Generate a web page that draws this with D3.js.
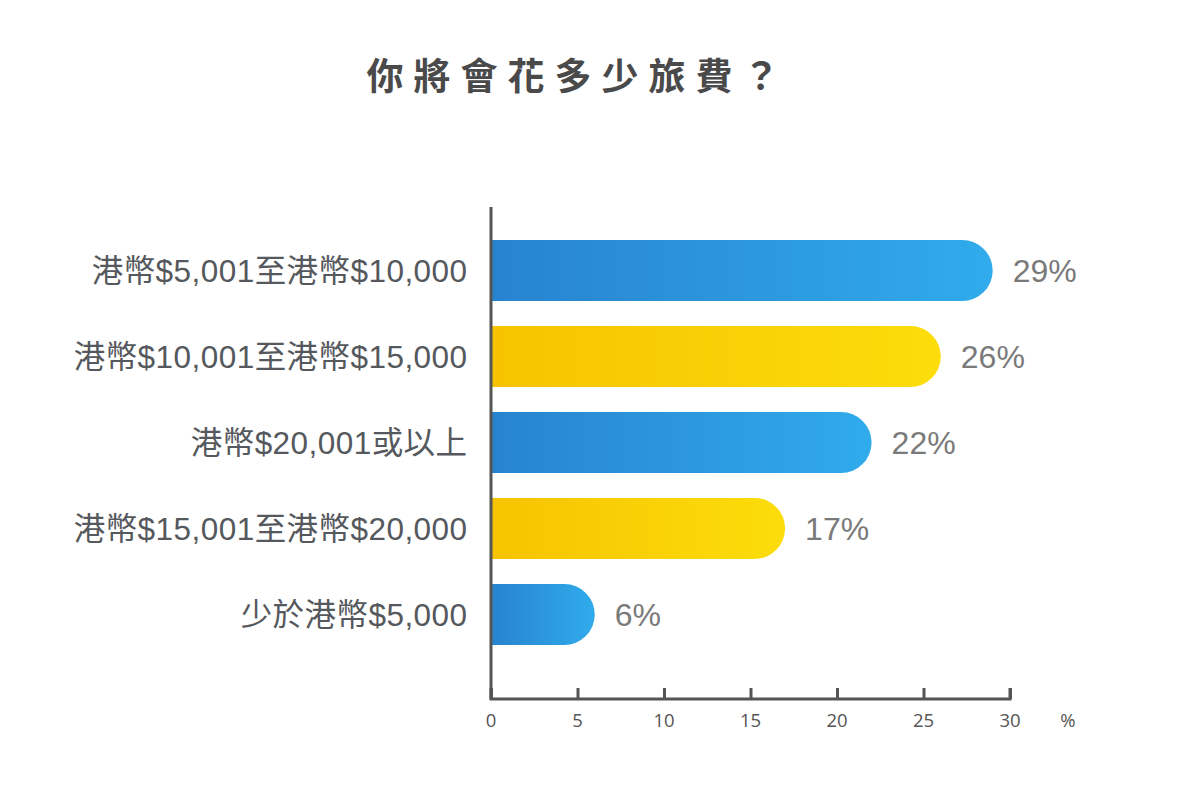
<!DOCTYPE html>
<meta charset="utf-8">
<head>
	<style>
		body { margin: 0; background: #fff; }
		.cat { font-family: "Liberation Sans", "Noto Sans CJK TC", sans-serif; font-size: 31.5px; fill: #55585c; letter-spacing: 0.45px; }
		.val { font-family: "Liberation Sans", "Noto Sans CJK TC", sans-serif; font-size: 32px; fill: #7a7a7a; }
		.tick text { font-family: "Open Sans", sans-serif; font-size: 18.5px; fill: #555; }
		.title { font-family: "Noto Sans CJK TC", sans-serif; font-size: 37px; font-weight: 600; fill: #4a4a4a; letter-spacing: 10px; }
	</style>
	<script src="https://cdn.jsdelivr.net/npm/d3@7"></script>
</head>
<body></body>
<script>

	var categories = ["港幣$5,001至港幣$10,000", "港幣$10,001至港幣$15,000", "港幣$20,001或以上", "港幣$15,001至港幣$20,000", "少於港幣$5,000"],
			values = [29, 26, 22, 17, 6],
			ticks = [0, 5, 10, 15, 20, 25, 30];

	var width = 1200,
			height = 799,
			left = 491,
			right = 1010;

	var svg = d3.select("body").append("svg")
		.attr("width", width)
		.attr("height", height);

	var defs = svg.append("defs");
	[["blue", "#2883cf", "#30abeb"], ["yellow", "#f7c300", "#fcdd0b"]].forEach(function(g) {
		var lg = defs.append("linearGradient").attr("id", g[0])
			.attr("x1", "0%").attr("x2", "100%").attr("y1", "0%").attr("y2", "0%");
		lg.append("stop").attr("offset", "0%").attr("stop-color", g[1]);
		lg.append("stop").attr("offset", "100%").attr("stop-color", g[2]);
	});

	svg.append("text")
		.attr("class", "title")
		.attr("x", 578)
		.attr("y", 90)
		.attr("text-anchor", "middle")
		.text("你將會花多少旅費？");

	var x = d3.scaleLinear().domain([0, 30]).range([left, right]);
	var y = d3.scaleBand().domain(categories).range([226, 659]).paddingInner(0.29).paddingOuter(0.163);

	var bh = y.bandwidth(), r = bh / 2;

	// bars: square left end, round right end
	svg.selectAll("path.bar")
		.data(values)
	  .enter().append("path")
		.attr("class", "bar")
		.attr("fill", function(d, i) { return i % 2 ? "url(#yellow)" : "url(#blue)"; })
		.attr("d", function(d, i) {
			var x0 = x(0), x1 = x(d), y0 = y(categories[i]);
			return "M" + x0 + "," + y0 + "H" + (x1 - r) +
				"A" + r + "," + r + " 0 0 1 " + (x1 - r) + "," + (y0 + bh) +
				"H" + x0 + "Z";
		});

	svg.selectAll("text.cat")
		.data(categories)
	  .enter().append("text")
		.attr("class", "cat")
		.attr("x", 467.5)
		.attr("y", function(d) { return y(d) + bh / 2; })
		.attr("dy", "0.36em")
		.attr("text-anchor", "end")
		.text(function(d) { return d; });

	svg.selectAll("text.val")
		.data(values)
	  .enter().append("text")
		.attr("class", "val")
		.attr("x", function(d) { return x(d) + 20; })
		.attr("y", function(d, i) { return y(categories[i]) + bh / 2; })
		.attr("dy", "0.36em")
		.text(function(d) { return d + "%"; });

	// axes
	svg.append("line")
		.attr("x1", left).attr("x2", left)
		.attr("y1", 207).attr("y2", 699)
		.attr("stroke", "#555").attr("stroke-width", 3);

	var xAxis = svg.append("g")
		.attr("transform", "translate(0,699)")
		.call(d3.axisTop(x).tickValues(ticks).tickSize(11).tickFormat(""));
	xAxis.select(".domain").attr("stroke", "#555").attr("stroke-width", 3).attr("d", "M" + left + ",-11V0H" + right + "V-11");
	xAxis.selectAll(".tick line").attr("stroke", "#555").attr("stroke-width", 3);

	svg.append("g").attr("class", "tick")
		.selectAll("text")
		.data(ticks)
	  .enter().append("text")
		.attr("x", function(d) { return x(d); })
		.attr("y", 727)
		.attr("text-anchor", "middle")
		.text(function(d) { return d; });

	svg.append("g").attr("class", "tick")
		.append("text")
		.attr("x", 1068)
		.attr("y", 727)
		.attr("text-anchor", "middle")
		.text("%");

</script>
